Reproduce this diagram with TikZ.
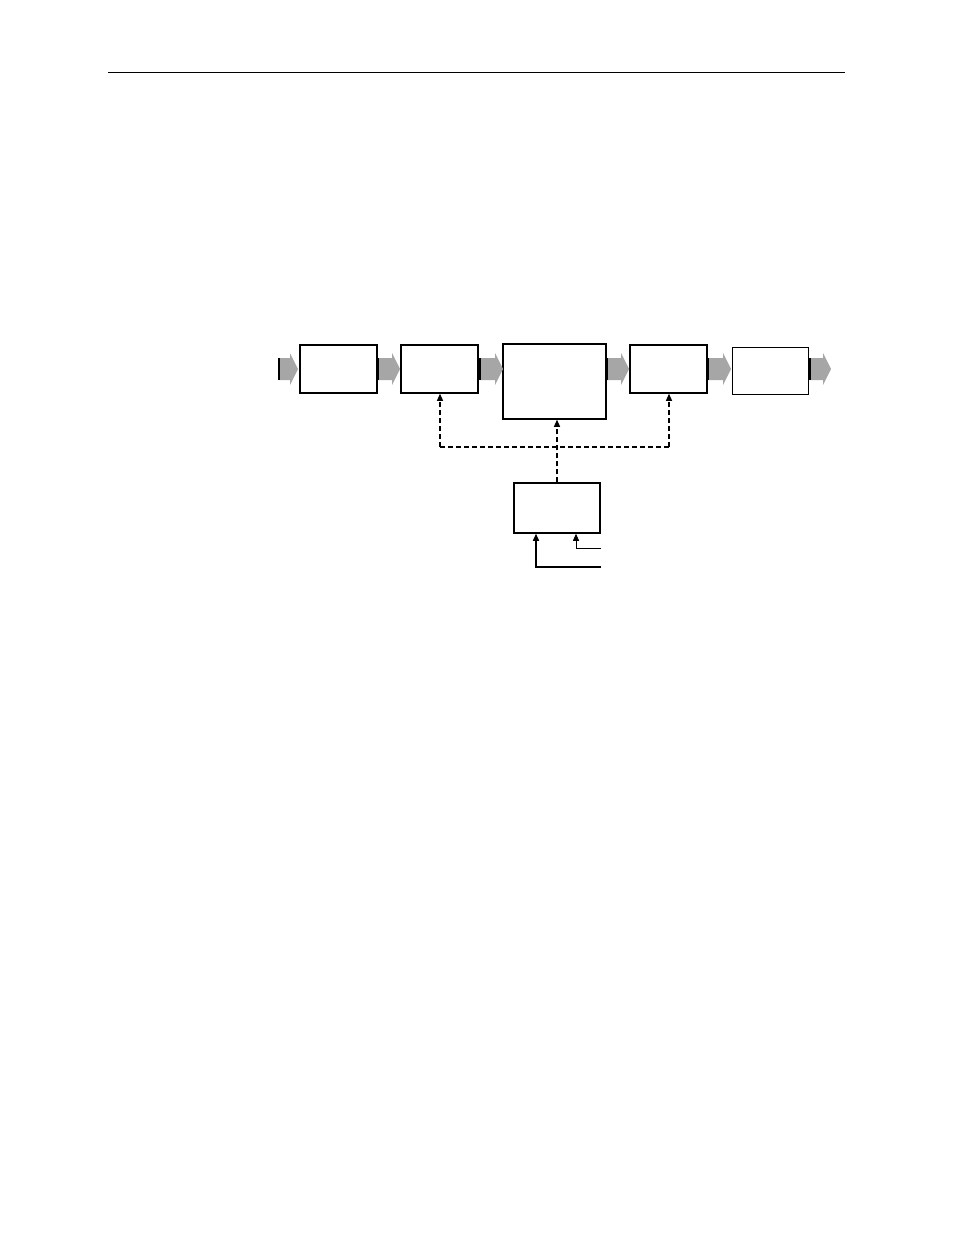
\documentclass[tikz,border=0pt]{standalone}
\usetikzlibrary{arrows.meta}
\begin{document}
\begin{tikzpicture}[x=1pt,y=-1pt,
  blk/.style={draw,line width=1.5pt,minimum width=0pt,inner sep=0pt},
  garrow/.style={fill=gray!70,draw=black,line width=0.4pt},
  dsh/.style={dashed,line width=1.2pt,dash pattern=on 5pt off 3pt,-{Triangle[length=7pt,width=6pt]}},
  sol/.style={line width=1pt,-{Triangle[length=7pt,width=6pt]}}]
\useasboundingbox (0,0) rectangle (954,1235);
\draw[line width=0.6pt] (108,72) -- (845,72);
\node[blk,minimum width=77pt,minimum height=48pt] (b1) at (338.5,369) {};
\node[blk,minimum width=77pt,minimum height=48pt] (b2) at (439.5,369) {};
\node[blk,minimum width=103pt,minimum height=75pt] (b3) at (554.5,381.5) {};
\node[blk,minimum width=77pt,minimum height=48pt] (b4) at (668.5,369) {};
\node[blk,line width=1pt,minimum width=76pt,minimum height=47pt] (b5) at (770,370.5) {};
\node[blk,minimum width=86pt,minimum height=50pt] (b6) at (557,508) {};
\foreach \a/\b in {279/298,378/400,480/503,607/629,708/731,810/831}{
  \fill[gray!70] (\a,358) -- (\b-8,358) -- (\b-8,353) -- (\b,369) -- (\b-8,385) -- (\b-8,380) -- (\a,380) -- cycle;
  \draw[line width=1.2pt] (\a,358) -- (\a,380);
}
\coordinate (h2) at (440,447);
\coordinate (h4) at (669,447);
\draw[dashed,line width=1.2pt,dash pattern=on 5pt off 3pt] (h2) -- (h4);
\draw[dsh] (h2) -- (b2.south -| h2);
\draw[dsh] (h4) -- (b4.south -| h4);
\draw[dsh] (b6.north) -- (b3.south -| b6.north);
\coordinate (i1) at (601,548);
\coordinate (i1c) at (576,548);
\coordinate (i2) at (601,567);
\coordinate (i2c) at (536,567);
\draw[sol,line width=0.8pt] (i1) -- (i1c) -- (b6.south -| i1c);
\draw[sol,line width=1.4pt] (i2) -- (i2c) -- (b6.south -| i2c);
\end{tikzpicture}
\end{document}
